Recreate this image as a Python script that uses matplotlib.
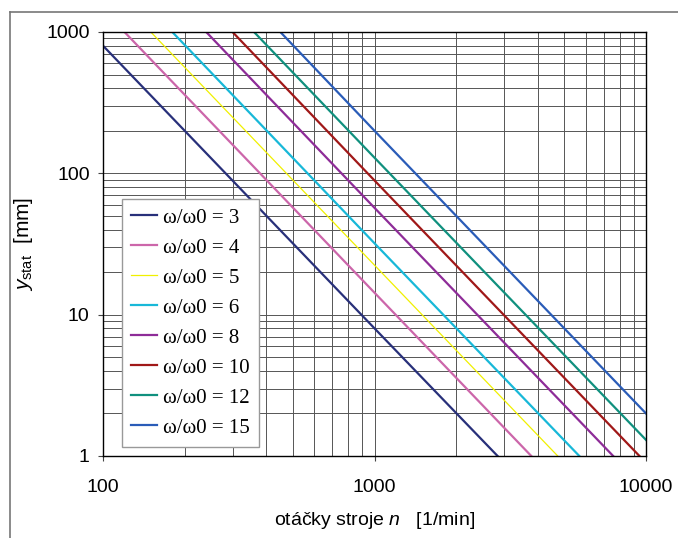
import matplotlib

matplotlib.use("Agg")
import matplotlib.pyplot as plt
from matplotlib.lines import Line2D
from matplotlib.ticker import LogLocator, NullFormatter, FixedLocator, FixedFormatter

plt.rcParams["font.family"] = ["Liberation Sans", "DejaVu Sans"]
plt.rcParams["mathtext.fontset"] = "custom"
plt.rcParams["mathtext.rm"] = "Liberation Sans"
plt.rcParams["mathtext.it"] = "Liberation Sans:italic"

# omega/omega0 ratios and line points (n [1/min], y_stat [mm])
ratios = [3, 4, 5, 6, 8, 10, 12, 15]
n_start = [100, 120, 150, 180, 240, 300, 360, 450]
y_start = [800, 1000, 1000, 1000, 1000, 1000, 1000, 1000]
n_mid = [1000, 1000, 1000, 1000, 1000, 1000, 1000, 1000]
y_mid = [8.0, 14.3, 22.4, 32.0, 57.0, 89.0, 129.0, 200.0]
n_end = [2840, 3780, 4730, 5680, 7570, 9460, 10000, 10000]
y_end = [1.0, 1.0, 1.0, 1.0, 1.0, 1.0, 1.3, 2.0]

colors = ["#28307a", "#cc66aa", "#f0f000", "#18b8d8", "#8e2c98", "#a01818", "#10907e", "#2a5cb8"]
widths = [1.6, 1.6, 0.9, 1.6, 1.6, 1.6, 1.6, 1.6]

x_ticks = [100, 1000, 10000]
y_ticks = [1, 10, 100, 1000]

fig = plt.figure(figsize=(6.78, 5.38), dpi=100)
ax = fig.add_axes([103 / 678, 1 - 456 / 538, 543 / 678, 424 / 538])

for k, x0, y0, xm, ym, x1, y1, c, w in zip(ratios, n_start, y_start, n_mid, y_mid, n_end, y_end, colors, widths):
    ax.plot([x0, xm, x1], [y0, ym, y1], color=c, lw=w, label=f"ω/ω0 = {k}")

ax.set_xscale("log")
ax.set_yscale("log")
ax.set_xlim(100, 10000)
ax.set_ylim(1, 1000)

ax.xaxis.set_major_locator(FixedLocator(x_ticks))
ax.xaxis.set_major_formatter(FixedFormatter([str(v) for v in x_ticks]))
ax.yaxis.set_major_locator(FixedLocator(y_ticks))
ax.yaxis.set_major_formatter(FixedFormatter([str(v) for v in y_ticks]))
for axis in (ax.xaxis, ax.yaxis):
    axis.set_minor_locator(LogLocator(base=10, subs=range(2, 10)))
    axis.set_minor_formatter(NullFormatter())

ax.grid(True, which="both", color="#555555", lw=0.7)
ax.set_axisbelow(True)
ax.tick_params(which="minor", length=0)
ax.tick_params(which="major", direction="out", length=3.6, width=0.8, labelsize=14, color="#444444")
ax.tick_params(axis="x", pad=13)
ax.tick_params(axis="y", pad=6)
for s in ax.spines.values():
    s.set_color("black")
    s.set_linewidth(1.0)

ax.set_xlabel(r"otáčky stroje $n$   [1/min]", fontsize=14, labelpad=10)
ax.set_ylabel(r"$y_{\mathrm{stat}}$  [mm]", fontsize=15, labelpad=8)

leg = ax.legend(loc="lower left", bbox_to_anchor=(0.035, 0.021), borderaxespad=0,
                prop={"family": "Liberation Serif", "size": 15}, frameon=True, fancybox=False,
                handlelength=1.25, handletextpad=0.25, labelspacing=0.5, borderpad=0.45)
leg.get_frame().set_edgecolor("#999999")
leg.get_frame().set_linewidth(1.0)
leg.get_frame().set_alpha(1)

# outer chart frame (only top and left edges are inside the picture)
fig.add_artist(Line2D([10 / 678, 1], [1 - 12 / 538, 1 - 12 / 538], transform=fig.transFigure, color="#777777", lw=1.2))
fig.add_artist(Line2D([10 / 678, 10 / 678], [0, 1 - 12 / 538], transform=fig.transFigure, color="#777777", lw=1.2))

fig.savefig("out.png", dpi=100)
plt.close(fig)
